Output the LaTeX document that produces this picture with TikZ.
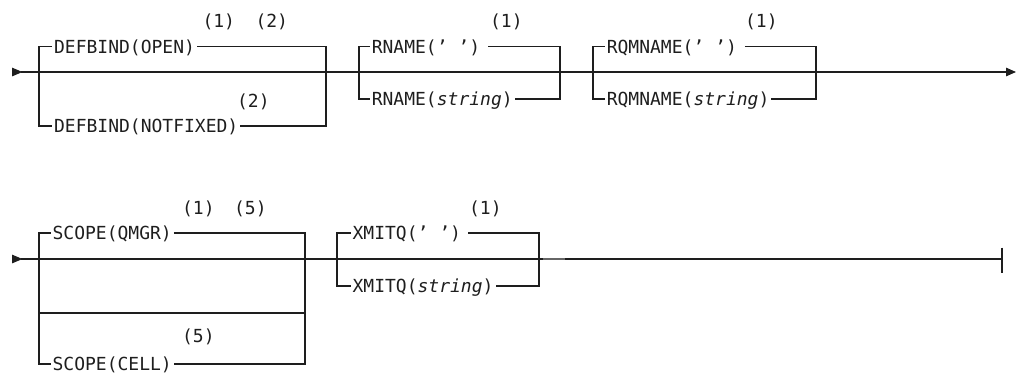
\documentclass[tikz,border=0pt]{standalone}
\usepackage{fontspec}
\setmonofont{DejaVu Sans Mono}
\usetikzlibrary{arrows.meta}
\definecolor{ink}{RGB}{30,30,30}
\begin{document}
\begin{tikzpicture}[x=1pt,y=-1pt,line width=1.2pt,draw=ink,
  lbl/.style={anchor=west,inner xsep=1.5pt,inner ysep=0pt,text height=13.1pt,text depth=0pt,
    font=\ttfamily\fontsize{18}{20}\selectfont,text=ink},
  rail/.style={draw=ink,line width=1.2pt},
  bothmarks/.style={{Triangle[reversed,length=10.5pt,width=8.5pt]}-{Triangle[length=10pt,width=8.5pt]}},
  startmark/.style={{Triangle[reversed,length=10.5pt,width=8.5pt]}-}]
\useasboundingbox (0,0) rectangle (1016,376);

% ---------- row 1 ----------
\coordinate (s1) at (12,72);
\coordinate (e1) at (1016,72);
\draw[rail,bothmarks] (s1) -- (e1);

% DEFBIND group
\coordinate (a1) at (39,46.5);  \coordinate (a2) at (39,126);
\coordinate (a3) at (326,46.5); \coordinate (a4) at (326,126);
\node[lbl] (defopen) at (52,46.5) {DEFBIND(OPEN)};
\node[lbl] (defnot) at (52,126) {DEFBIND(NOTFIXED)};
\node[lbl] (fa1) at (200.4,21) {(1)};
\node[lbl] (fa2) at (253.4,21) {(2)};
\node[lbl] (fa3) at (235,101) {(2)};
\draw[rail] (defopen.west) -- (a1) -- (a2) -- (defnot.west);
\draw[rail] (defopen.east) -- (a3) -- (a4) -- (defnot.east);

% RNAME group
\coordinate (b1) at (359,46.5); \coordinate (b2) at (359,99);
\coordinate (b3) at (560,46.5); \coordinate (b4) at (560,99);
\node[lbl] (rnb) at (369.7,46.5) {RNAME(’ ’)\kern6pt};
\node[lbl] (rns) at (369.7,99) {RNAME(\textit{string})};
\node[lbl] (fb1) at (488,21) {(1)};
\draw[rail] (rnb.west) -- (b1) -- (b2) -- (rns.west);
\draw[rail] (rnb.east) -- (b3) -- (b4) -- (rns.east);

% RQMNAME group
\coordinate (c1) at (593,46.5); \coordinate (c2) at (593,99);
\coordinate (c3) at (816,46.5); \coordinate (c4) at (816,99);
\node[lbl] (rqb) at (604.7,46.5) {RQMNAME(’ ’)\kern6pt};
\node[lbl] (rqs) at (604.7,99) {RQMNAME(\textit{string})};
\node[lbl] (fc1) at (743,21) {(1)};
\draw[rail] (rqb.west) -- (c1) -- (c2) -- (rqs.west);
\draw[rail] (rqb.east) -- (c3) -- (c4) -- (rqs.east);

% ---------- row 2 ----------
\coordinate (s2) at (12,259);
\coordinate (e2) at (1002,259);
\coordinate (bt) at (1002,247.5);
\coordinate (bb) at (1002,273);
\draw[rail,startmark] (s2) -- (e2);
\draw[rail,line width=1.7pt] (bt) -- (bb);

% SCOPE group
\coordinate (d1) at (39,233);  \coordinate (d2) at (39,364);
\coordinate (d3) at (305,233); \coordinate (d4) at (305,364);
\coordinate (d5) at (39,313);  \coordinate (d6) at (305,313);
\node[lbl] (scq) at (50.5,233) {SCOPE(QMGR)};
\node[lbl] (scc) at (50.5,364) {SCOPE(CELL)};
\node[lbl] (fd1) at (180,207.6) {(1)};
\node[lbl] (fd2) at (232,207.6) {(5)};
\node[lbl] (fd3) at (180,336) {(5)};
\draw[rail] (scq.west) -- (d1) -- (d2) -- (scc.west);
\draw[rail] (scq.east) -- (d3) -- (d4) -- (scc.east);
\draw[rail] (d5) -- (d6);

% XMITQ group
\coordinate (x1) at (337,233); \coordinate (x2) at (337,286);
\coordinate (x3) at (539,233); \coordinate (x4) at (539,286);
\node[lbl] (xqb) at (350.5,233) {XMITQ(’ ’)\kern5pt};
\node[lbl] (xqs) at (350.5,286) {XMITQ(\textit{string})};
\node[lbl] (fx1) at (467,207.6) {(1)};
\draw[rail] (xqb.west) -- (x1) -- (x2) -- (xqs.west);
\draw[rail] (xqb.east) -- (x3) -- (x4) -- (xqs.east);
\coordinate (st1) at (543,258.6);
\coordinate (st2) at (565,258.6);
\draw[line width=1.9pt,draw=gray!80!black] (st1) -- (st2);
\end{tikzpicture}
\end{document}
